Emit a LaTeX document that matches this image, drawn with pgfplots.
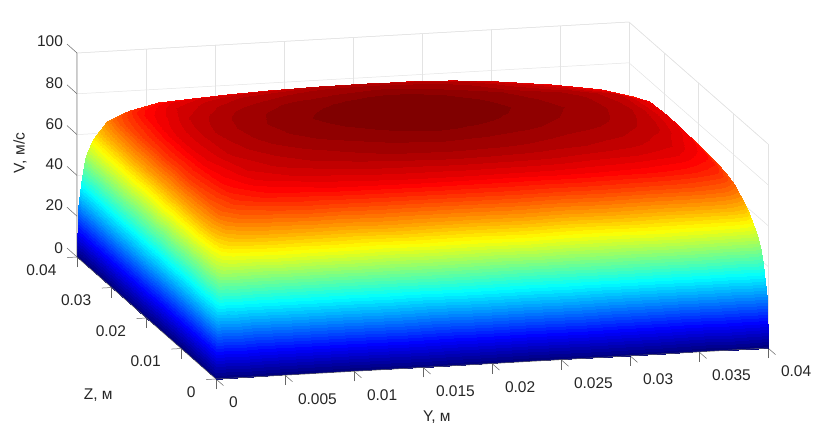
\documentclass[border=0pt]{standalone}
\usepackage{pgfplots}
\usepgfplotslibrary{patchplots,colormaps}
\pgfplotsset{compat=1.18}
\usepackage{fontspec}
\setmainfont{Liberation Sans}
\newcommand{\lf}{\fontsize{15.5}{16}\selectfont}
\begin{document}
\begin{tikzpicture}[x=1pt,y=1pt]
\useasboundingbox (0,0) rectangle (834,432);
\begin{axis}[
 at={(216pt,53pt)},anchor=origin,
 x={(13.8pt,0.775pt)},y={(-3.475pt,3.05pt)},z={(0pt,2.04pt)},
 xmin=0,xmax=40,ymin=0,ymax=40,zmin=0,zmax=100,
 xtick={0,5,...,40},ytick={0,10,...,40},ztick={0,20,...,100},
 xticklabels={0,0.005,0.01,0.015,0.02,0.025,0.03,0.035,0.04},
 yticklabels={0,0.01,0.02,0.03,0.04},
 xtick pos=lower,ytick pos=lower,ztick pos=upper,zticklabel pos=lower,
 grid=major,
 grid style={gray!22,line width=0.5pt},
 axis line style={gray!22,line width=0.5pt},
 tick style={black!60,line width=0.5pt},
 ztick style={draw=none},
 tick align=outside,major tick length=10pt,
 ticklabel style={font=\lf,text=black!85},
 xticklabel style={anchor=north west,xshift=2pt,yshift=-8pt},
 yticklabel style={anchor=east,xshift=-7pt,yshift=-12.5pt},
 zticklabel style={xshift=-3pt},
 /pgf/number format/assume math mode=true,
 xlabel={Y, м},ylabel={Z, м},zlabel={V, м/с},
 every axis x label/.style={at={(axis cs:16,0,0)},anchor=center,yshift=-50.4pt,font=\lf,text=black!85},
 every axis y label/.style={at={(axis cs:0,10,0)},anchor=center,xshift=-83pt,yshift=-46.5pt,font=\lf,text=black!85},
 every axis z label/.style={at={(axis cs:0,40,50)},anchor=center,rotate=90,xshift=2pt,yshift=57pt,font=\lf,text=black!85},
 colormap/jet,
 colormap={m}{samples of colormap=(64 of jet)},
 colormap access=piecewise constant,
 point meta min=0,point meta max=95,
 clip=false,
]
\addplot3[surf,shader=interp,z buffer=none,mesh/cols=25,point meta=z] table {
40 40 0
39.94 40 0
39.83 40 0
39.65 40 0
39.3 40 0
38.8 40 0
37.8 40 0
35.5 40 0
32.5 40 0
28.7 40 0
25.7 40 0
22.7 40 0
19.2 40 0
15.7 40 0
12.7 40 0
9.7 40 0
7.2 40 0
4.7 40 0
2.7 40 0
1.5 40 0
.8 40 0
.4 40 0
.2 40 0
.07 40 0
0 40 0
40 39.92 0
39.94 39.92 24.0
39.83 39.92 27.3
39.65 39.92 28.1
39.3 39.92 28.3
38.8 39.92 28.4
37.8 39.92 28.5
35.5 39.92 28.5
32.5 39.92 28.5
28.7 39.92 28.5
25.7 39.92 28.5
22.7 39.92 28.5
19.2 39.92 28.5
15.7 39.92 28.5
12.7 39.92 28.5
9.7 39.92 28.5
7.2 39.92 28.5
4.7 39.92 28.5
2.7 39.92 28.5
1.5 39.92 28.4
.8 39.92 28.3
.4 39.92 28.1
.2 39.92 27.3
.07 39.92 24.0
0 39.92 0
40 39.75 0
39.94 39.75 27.3
39.83 39.75 36.1
39.65 39.75 40.2
39.3 39.75 41.6
38.8 39.75 42.2
37.8 39.75 42.5
35.5 39.75 42.6
32.5 39.75 42.7
28.7 39.75 42.7
25.7 39.75 42.7
22.7 39.75 42.7
19.2 39.75 42.75
15.7 39.75 42.7
12.7 39.75 42.7
9.7 39.75 42.7
7.2 39.75 42.7
4.7 39.75 42.6
2.7 39.75 42.5
1.5 39.75 42.2
.8 39.75 41.6
.4 39.75 40.2
.2 39.75 36.1
.07 39.75 27.3
0 39.75 0
40 39.4 0
39.94 39.4 28.1
39.83 39.4 40.2
39.65 39.4 48.7
39.3 39.4 52.9
38.8 39.4 55.0
37.8 39.4 55.9
35.5 39.4 56.4
32.5 39.4 56.7
28.7 39.4 56.8
25.7 39.4 56.9
22.7 39.4 57.0
19.2 39.4 57.0
15.7 39.4 57.0
12.7 39.4 56.9
9.7 39.4 56.8
7.2 39.4 56.7
4.7 39.4 56.4
2.7 39.4 55.9
1.5 39.4 55.0
.8 39.4 52.9
.4 39.4 48.7
.2 39.4 40.2
.07 39.4 28.1
0 39.4 0
40 38.7 0
39.94 38.7 28.3
39.83 38.7 41.6
39.65 38.7 52.9
39.3 38.7 53.6
38.8 38.7 57.4
37.8 38.7 60.0
35.5 38.7 62.4
32.5 38.7 64.6
28.7 38.7 66.5
25.7 38.7 68.2
22.7 38.7 68.3
19.2 38.7 68.4
15.7 38.7 68.3
12.7 38.7 68.2
9.7 38.7 67.9
7.2 38.7 67.6
4.7 38.7 67.1
2.7 38.7 65.9
1.5 38.7 63.8
.8 38.7 59.6
.4 38.7 52.9
.2 38.7 41.6
.07 38.7 28.3
0 38.7 0
40 37.4 0
39.94 37.4 28.4
39.83 37.4 42.2
39.65 37.4 55.0
39.3 37.4 57.4
38.8 37.4 62.9
37.8 37.4 66.8
35.5 37.4 70.1
32.5 37.4 73.0
28.7 37.4 75.5
25.7 37.4 77.4
22.7 37.4 77.7
19.2 37.4 77.9
15.7 37.4 77.7
12.7 37.4 77.4
9.7 37.4 77.0
7.2 37.4 76.4
4.7 37.4 75.4
2.7 37.4 73.4
1.5 37.4 69.9
.8 37.4 63.8
.4 37.4 55.0
.2 37.4 42.2
.07 37.4 28.4
0 37.4 0
40 35.4 0
39.94 35.4 28.5
39.83 35.4 42.5
39.65 35.4 55.9
39.3 35.4 60.0
38.8 35.4 66.8
37.8 35.4 71.8
35.5 35.4 75.8
32.5 35.4 79.0
28.7 35.4 81.7
25.7 35.4 83.9
22.7 35.4 84.3
19.2 35.4 84.6
15.7 35.4 84.3
12.7 35.4 83.9
9.7 35.4 83.2
7.2 35.4 82.3
4.7 35.4 80.9
2.7 35.4 78.1
1.5 35.4 73.4
.8 35.4 65.9
.4 35.4 55.9
.2 35.4 42.5
.07 35.4 28.5
0 35.4 0
40 32.8 0
39.94 32.8 28.5
39.83 32.8 42.6
39.65 32.8 56.4
39.3 32.8 62.4
38.8 32.8 70.1
37.8 32.8 75.8
35.5 32.8 80.2
32.5 32.8 83.3
28.7 32.8 85.9
25.7 32.8 88.0
22.7 32.8 88.5
19.2 32.8 88.8
15.7 32.8 88.5
12.7 32.8 88.0
9.7 32.8 87.1
7.2 32.8 86.1
4.7 32.8 84.3
2.7 32.8 80.9
1.5 32.8 75.4
.8 32.8 67.1
.4 32.8 56.4
.2 32.8 42.6
.07 32.8 28.5
0 32.8 0
40 30.2 0
39.94 30.2 28.5
39.83 30.2 42.7
39.65 30.2 56.7
39.3 30.2 64.6
38.8 30.2 73.0
37.8 30.2 79.0
35.5 30.2 83.3
32.5 30.2 86.3
28.7 30.2 88.5
25.7 30.2 90.2
22.7 30.2 90.8
19.2 30.2 91.2
15.7 30.2 90.8
12.7 30.2 90.2
9.7 30.2 89.3
7.2 30.2 88.1
4.7 30.2 86.1
2.7 30.2 82.3
1.5 30.2 76.4
.8 30.2 67.6
.4 30.2 56.7
.2 30.2 42.7
.07 30.2 28.5
0 30.2 0
40 27.5 0
39.94 27.5 28.5
39.83 27.5 42.7
39.65 27.5 56.8
39.3 27.5 66.5
38.8 27.5 75.5
37.8 27.5 81.7
35.5 27.5 85.9
32.5 27.5 88.5
28.7 27.5 90.1
25.7 27.5 91.5
22.7 27.5 92.2
19.2 27.5 92.6
15.7 27.5 92.2
12.7 27.5 91.5
9.7 27.5 90.5
7.2 27.5 89.3
4.7 27.5 87.1
2.7 27.5 83.2
1.5 27.5 77.0
.8 27.5 67.9
.4 27.5 56.8
.2 27.5 42.7
.07 27.5 28.5
0 27.5 0
40 25.5 0
39.94 25.5 28.5
39.83 25.5 42.7
39.65 25.5 56.9
39.3 25.5 68.2
38.8 25.5 77.4
37.8 25.5 83.9
35.5 25.5 88.0
32.5 25.5 90.2
28.7 25.5 91.5
25.7 25.5 92.6
22.7 25.5 93.3
19.2 25.5 93.8
15.7 25.5 93.3
12.7 25.5 92.6
9.7 25.5 91.5
7.2 25.5 90.2
4.7 25.5 88.0
2.7 25.5 83.9
1.5 25.5 77.4
.8 25.5 68.2
.4 25.5 56.9
.2 25.5 42.7
.07 25.5 28.5
0 25.5 0
40 23 0
39.94 23 28.5
39.83 23 42.7
39.65 23 57.0
39.3 23 68.3
38.8 23 77.7
37.8 23 84.3
35.5 23 88.5
32.5 23 90.8
28.7 23 92.2
25.7 23 93.3
22.7 23 94.1
19.2 23 94.5
15.7 23 94.1
12.7 23 93.3
9.7 23 92.2
7.2 23 90.8
4.7 23 88.5
2.7 23 84.3
1.5 23 77.7
.8 23 68.3
.4 23 57.0
.2 23 42.7
.07 23 28.5
0 23 0
40 20 0
39.94 20 28.5
39.83 20 42.7
39.65 20 57.0
39.3 20 68.4
38.8 20 77.9
37.8 20 84.6
35.5 20 88.8
32.5 20 91.2
28.7 20 92.6
25.7 20 93.8
22.7 20 94.5
19.2 20 95.0
15.7 20 94.5
12.7 20 93.8
9.7 20 92.6
7.2 20 91.2
4.7 20 88.8
2.7 20 84.6
1.5 20 77.9
.8 20 68.4
.4 20 57.0
.2 20 42.7
.07 20 28.5
0 20 0
40 17 0
39.94 17 28.5
39.83 17 42.7
39.65 17 57.0
39.3 17 68.3
38.8 17 77.7
37.8 17 84.3
35.5 17 88.5
32.5 17 90.8
28.7 17 92.2
25.7 17 93.3
22.7 17 94.1
19.2 17 94.5
15.7 17 94.1
12.7 17 93.3
9.7 17 92.2
7.2 17 90.8
4.7 17 88.5
2.7 17 84.3
1.5 17 77.7
.8 17 68.3
.4 17 57.0
.2 17 42.7
.07 17 28.5
0 17 0
40 14.5 0
39.94 14.5 28.5
39.83 14.5 42.7
39.65 14.5 56.9
39.3 14.5 68.2
38.8 14.5 77.4
37.8 14.5 83.9
35.5 14.5 88.0
32.5 14.5 90.2
28.7 14.5 91.5
25.7 14.5 92.6
22.7 14.5 93.3
19.2 14.5 93.8
15.7 14.5 93.3
12.7 14.5 92.6
9.7 14.5 91.5
7.2 14.5 90.2
4.7 14.5 88.0
2.7 14.5 83.9
1.5 14.5 77.4
.8 14.5 68.2
.4 14.5 56.9
.2 14.5 42.7
.07 14.5 28.5
0 14.5 0
40 12.5 0
39.94 12.5 28.5
39.83 12.5 42.7
39.65 12.5 56.8
39.3 12.5 67.9
38.8 12.5 77.0
37.8 12.5 83.2
35.5 12.5 87.1
32.5 12.5 89.3
28.7 12.5 90.5
25.7 12.5 91.5
22.7 12.5 92.2
19.2 12.5 92.6
15.7 12.5 92.2
12.7 12.5 91.5
9.7 12.5 90.5
7.2 12.5 89.3
4.7 12.5 87.1
2.7 12.5 83.2
1.5 12.5 77.0
.8 12.5 67.9
.4 12.5 56.8
.2 12.5 42.7
.07 12.5 28.5
0 12.5 0
40 9.8 0
39.94 9.8 28.5
39.83 9.8 42.7
39.65 9.8 56.7
39.3 9.8 67.6
38.8 9.8 76.4
37.8 9.8 82.3
35.5 9.8 86.1
32.5 9.8 88.1
28.7 9.8 89.3
25.7 9.8 90.2
22.7 9.8 90.8
19.2 9.8 91.2
15.7 9.8 90.8
12.7 9.8 90.2
9.7 9.8 89.3
7.2 9.8 88.1
4.7 9.8 86.1
2.7 9.8 82.3
1.5 9.8 76.4
.8 9.8 67.6
.4 9.8 56.7
.2 9.8 42.7
.07 9.8 28.5
0 9.8 0
40 7.5 0
39.94 7.5 28.5
39.83 7.5 42.6
39.65 7.5 56.4
39.3 7.5 67.1
38.8 7.5 75.4
37.8 7.5 80.9
35.5 7.5 84.3
32.5 7.5 86.1
28.7 7.5 87.1
25.7 7.5 88.0
22.7 7.5 88.5
19.2 7.5 88.8
15.7 7.5 88.5
12.7 7.5 88.0
9.7 7.5 87.1
7.2 7.5 86.1
4.7 7.5 84.3
2.7 7.5 80.9
1.5 7.5 75.4
.8 7.5 67.1
.4 7.5 56.4
.2 7.5 42.6
.07 7.5 28.5
0 7.5 0
40 5 0
39.94 5 28.5
39.83 5 42.5
39.65 5 55.9
39.3 5 65.9
38.8 5 73.4
37.8 5 78.1
35.5 5 80.9
32.5 5 82.3
28.7 5 83.2
25.7 5 83.9
22.7 5 84.3
19.2 5 84.6
15.7 5 84.3
12.7 5 83.9
9.7 5 83.2
7.2 5 82.3
4.7 5 80.9
2.7 5 78.1
1.5 5 73.4
.8 5 65.9
.4 5 55.9
.2 5 42.5
.07 5 28.5
0 5 0
40 3.3 0
39.94 3.3 28.4
39.83 3.3 42.2
39.65 3.3 55.0
39.3 3.3 63.8
38.8 3.3 69.9
37.8 3.3 73.4
35.5 3.3 75.4
32.5 3.3 76.4
28.7 3.3 77.0
25.7 3.3 77.4
22.7 3.3 77.7
19.2 3.3 77.9
15.7 3.3 77.7
12.7 3.3 77.4
9.7 3.3 77.0
7.2 3.3 76.4
4.7 3.3 75.4
2.7 3.3 73.4
1.5 3.3 69.9
.8 3.3 63.8
.4 3.3 55.0
.2 3.3 42.2
.07 3.3 28.4
0 3.3 0
40 1.8 0
39.94 1.8 28.3
39.83 1.8 41.6
39.65 1.8 52.9
39.3 1.8 59.6
38.8 1.8 63.8
37.8 1.8 65.9
35.5 1.8 67.1
32.5 1.8 67.6
28.7 1.8 67.9
25.7 1.8 68.2
22.7 1.8 68.3
19.2 1.8 68.4
15.7 1.8 68.3
12.7 1.8 68.2
9.7 1.8 67.9
7.2 1.8 67.6
4.7 1.8 67.1
2.7 1.8 65.9
1.5 1.8 63.8
.8 1.8 59.6
.4 1.8 52.9
.2 1.8 41.6
.07 1.8 28.3
0 1.8 0
40 .85 0
39.94 .85 28.1
39.83 .85 40.2
39.65 .85 48.7
39.3 .85 52.9
38.8 .85 55.0
37.8 .85 55.9
35.5 .85 56.4
32.5 .85 56.7
28.7 .85 56.8
25.7 .85 56.9
22.7 .85 57.0
19.2 .85 57.0
15.7 .85 57.0
12.7 .85 56.9
9.7 .85 56.8
7.2 .85 56.7
4.7 .85 56.4
2.7 .85 55.9
1.5 .85 55.0
.8 .85 52.9
.4 .85 48.7
.2 .85 40.2
.07 .85 28.1
0 .85 0
40 .35 0
39.94 .35 27.3
39.83 .35 36.1
39.65 .35 40.2
39.3 .35 41.6
38.8 .35 42.2
37.8 .35 42.5
35.5 .35 42.6
32.5 .35 42.7
28.7 .35 42.7
25.7 .35 42.7
22.7 .35 42.7
19.2 .35 42.75
15.7 .35 42.7
12.7 .35 42.7
9.7 .35 42.7
7.2 .35 42.7
4.7 .35 42.6
2.7 .35 42.5
1.5 .35 42.2
.8 .35 41.6
.4 .35 40.2
.2 .35 36.1
.07 .35 27.3
0 .35 0
40 .12 0
39.94 .12 24.0
39.83 .12 27.3
39.65 .12 28.1
39.3 .12 28.3
38.8 .12 28.4
37.8 .12 28.5
35.5 .12 28.5
32.5 .12 28.5
28.7 .12 28.5
25.7 .12 28.5
22.7 .12 28.5
19.2 .12 28.5
15.7 .12 28.5
12.7 .12 28.5
9.7 .12 28.5
7.2 .12 28.5
4.7 .12 28.5
2.7 .12 28.5
1.5 .12 28.4
.8 .12 28.3
.4 .12 28.1
.2 .12 27.3
.07 .12 24.0
0 .12 0
40 0 0
39.94 0 0
39.83 0 0
39.65 0 0
39.3 0 0
38.8 0 0
37.8 0 0
35.5 0 0
32.5 0 0
28.7 0 0
25.7 0 0
22.7 0 0
19.2 0 0
15.7 0 0
12.7 0 0
9.7 0 0
7.2 0 0
4.7 0 0
2.7 0 0
1.5 0 0
.8 0 0
.4 0 0
.2 0 0
.07 0 0
0 0 0
};
\draw[black!60,line width=0.5pt] (axis cs:0,0,0)--(axis cs:40,0,0);
\draw[black!60,line width=0.5pt] (axis cs:0,0,0)--(axis cs:0,40,0)--(axis cs:0,40,100);
\pgfplotsinvokeforeach{0,20,40,60,80,100}{\draw[black!60,line width=0.5pt] (axis cs:0,40,#1)--++(-10pt,9pt);}
\end{axis}
\end{tikzpicture}
\end{document}
